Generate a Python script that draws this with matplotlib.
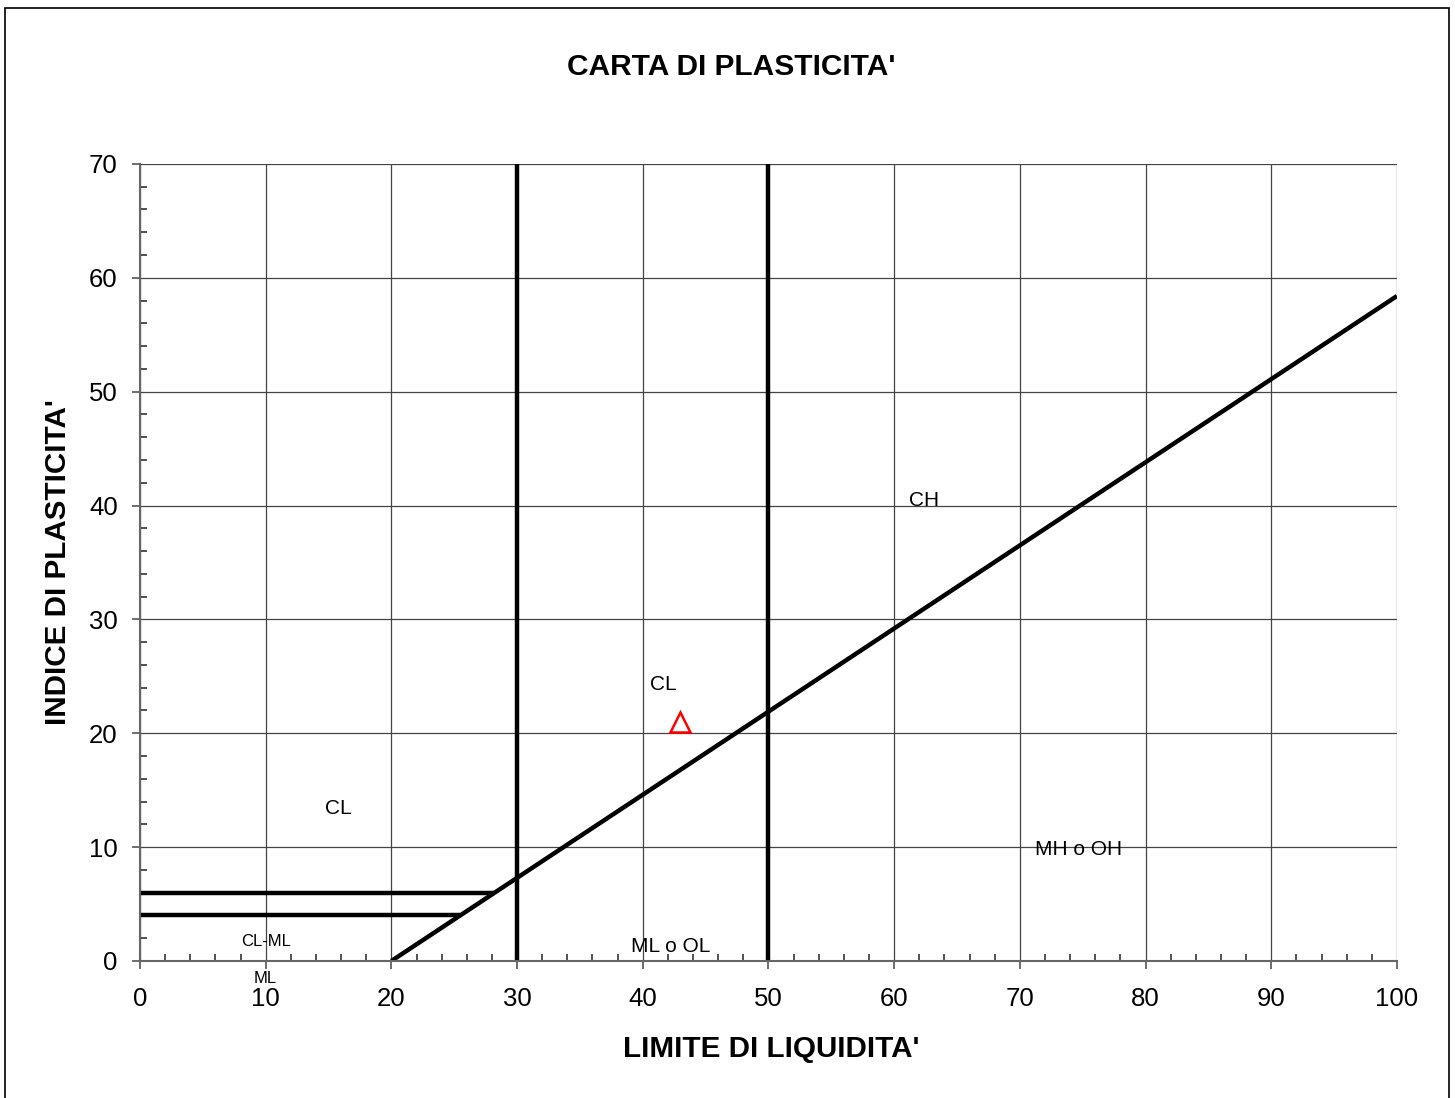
import matplotlib
matplotlib.use("Agg")
import matplotlib.pyplot as plt
from matplotlib.ticker import MultipleLocator
from matplotlib.patches import Rectangle
import numpy as np

plt.rcParams['font.family'] = ['Liberation Sans', 'DejaVu Sans']

# chart data
title = "CARTA DI PLASTICITA'"
xlabel = "LIMITE DI LIQUIDITA'"
ylabel = "INDICE DI PLASTICITA'"

a_line_ll = [20, 100]                # A-line: PI = 0.73 (LL - 20)
a_line_slope = 0.73
vertical_ll = [30, 50]               # limits LL=30 and LL=50
horizontal_pi = [6, 4]               # CL-ML band
horizontal_end = [28.2, 25.5]

sample_ll = [43]
sample_pi = [21]

zone_labels = ["CL", "CL", "CH", "MH o OH", "ML o OL"]
zone_x = [15.8, 41.6, 62.4, 74.7, 42.2]
zone_y = [13.4, 24.3, 40.4, 9.8, 1.3]
small_labels = ["CL-ML", "ML"]
small_x = [10.0, 10.0]
small_y = [1.75, -1.5]

fig = plt.figure(figsize=(14.55, 10.98), dpi=100)
ax = fig.add_axes([0.0962, 0.1248, 0.8639, 0.7259])

# frame around the whole figure
fig.patches.append(Rectangle((5/1455, -0.01), 1444/1455, 1 - 8/1098 + 0.01,
                             transform=fig.transFigure, fill=False,
                             edgecolor='black', lw=1.2))

# A-line
ll = np.array(a_line_ll)
ax.plot(ll, a_line_slope*(ll - 20), color='black', lw=3.2, solid_capstyle='butt')

# vertical limits
for v in vertical_ll:
    ax.plot([v, v], [0, 70], color='black', lw=3.2, solid_capstyle='butt', clip_on=False)

# horizontal lines of the CL-ML band
for pi, end in zip(horizontal_pi, horizontal_end):
    ax.plot([0, end], [pi, pi], color='black', lw=3.2, solid_capstyle='butt')

# sample
ax.plot(sample_ll, sample_pi, marker='^', ms=14, mfc='white', mec='red',
        mew=1.8, ls='none', zorder=5)

for t, x, y in zip(zone_labels, zone_x, zone_y):
    ax.text(x, y, t, fontsize=15, ha='center', va='center')
for t, x, y in zip(small_labels, small_x, small_y):
    ax.text(x, y, t, fontsize=12, ha='center', va='center', clip_on=False)

ax.set_xlim(0, 100)
ax.set_ylim(0, 70)
ax.xaxis.set_major_locator(MultipleLocator(10))
ax.yaxis.set_major_locator(MultipleLocator(10))
ax.xaxis.set_minor_locator(MultipleLocator(2))
ax.yaxis.set_minor_locator(MultipleLocator(2))
ax.tick_params(which='major', direction='out', length=6, width=1.2,
               color='#555555', labelsize=18.5)
ax.tick_params(which='minor', direction='in', length=5, width=1.2, color='#333333')
ax.tick_params(axis='x', which='major', pad=13)
ax.tick_params(axis='y', which='major', pad=10)

ax.grid(True, which='major', color='#444444', lw=0.9)
ax.set_axisbelow(True)
for s in ['top', 'right']:
    ax.spines[s].set_visible(False)
for s in ['left', 'bottom']:
    ax.spines[s].set_color('#666666')
    ax.spines[s].set_linewidth(1.5)

fig.text(731/1455, 1 - 67/1098, title, fontsize=21.5, fontweight='bold',
         ha='center', va='center')
fig.text(771/1455, 1 - 1049/1098, xlabel, fontsize=21.3, fontweight='bold',
         ha='center', va='center')
fig.text(58/1455, 1 - 562/1098, ylabel, fontsize=21.3, fontweight='bold',
         ha='center', va='center', rotation=90)

fig.savefig("out.png", dpi=100)
